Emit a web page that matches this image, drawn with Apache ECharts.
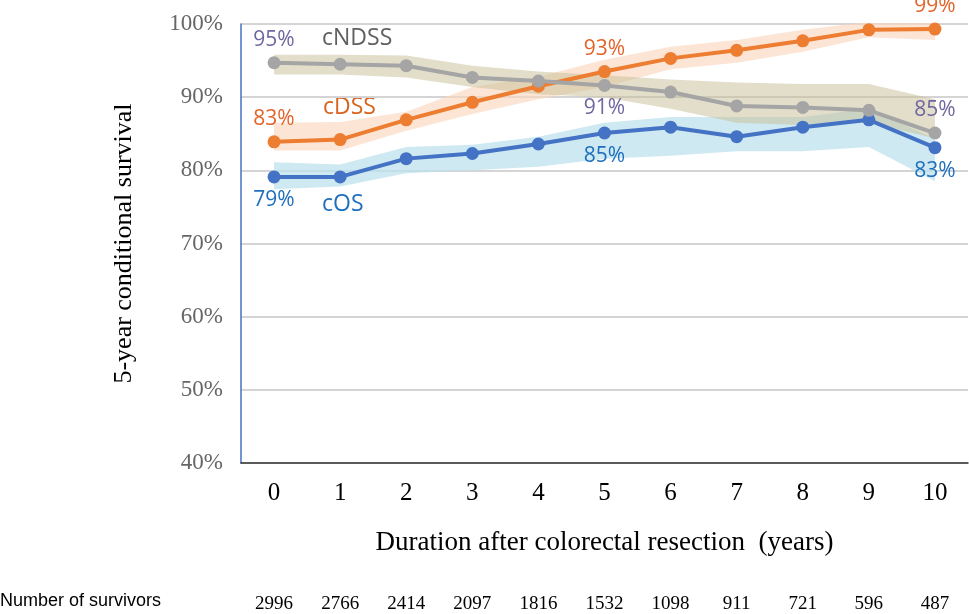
<!DOCTYPE html>
<html>
<head>
<meta charset="utf-8">
<script src="https://cdn.jsdelivr.net/npm/echarts@6/dist/echarts.min.js"></script>
<style>html,body{margin:0;padding:0;background:#fff}#chart{width:969px;height:614px}</style>
</head>
<body>
<div id="chart"></div>
<script>
// 随访年数
const years = ['0', '1', '2', '3', '4', '5', '6', '7', '8', '9', '10'];
const survivors = ['2996', '2766', '2414', '2097', '1816', '1532', '1098', '911', '721', '596', '487'];
const yTicks = [40, 50, 60, 70, 80, 90, 100];

const cOS = [79.1, 79.1, 81.6, 82.3, 83.6, 85.1, 85.9, 84.6, 85.9, 86.9, 83.1];
const cOSLow = [77.4, 77.8, 79.6, 80.0, 80.5, 81.6, 82.0, 82.6, 82.6, 83.2, 78.5];
const cOSHigh = [81.1, 80.8, 83.2, 83.5, 84.6, 86.5, 87.3, 87.3, 87.3, 88.4, 84.3];

const cDSS = [83.9, 84.2, 86.9, 89.3, 91.5, 93.5, 95.3, 96.4, 97.7, 99.2, 99.3];
const cDSSLow = [82.7, 82.7, 85.4, 87.7, 89.7, 91.4, 93.8, 94.7, 96.2, 98.2, 97.8];
const cDSSHigh = [86.5, 86.6, 88.0, 91.4, 92.8, 95.1, 96.9, 97.8, 99.2, 100.3, 100.3];

const cNDSS = [94.7, 94.5, 94.3, 92.7, 92.2, 91.6, 90.7, 88.8, 88.6, 88.2, 85.1];
const cNDSSLow = [93.1, 93.1, 92.7, 91.4, 90.4, 90.0, 88.4, 86.5, 86.2, 86.5, 84.4];
const cNDSSHigh = [95.8, 95.8, 95.7, 94.3, 93.5, 93.0, 92.4, 92.0, 91.8, 91.8, 89.7];

// 标注的点: [索引, 文本, 位置]
const cOSLabels = [[0, '79%', 'bottom'], [5, '85%', 'bottom'], [10, '83%', 'bottom']];
const cDSSLabels = [[0, '83%', 'top'], [5, '93%', 'top'], [10, '99%', 'top']];
const cNDSSLabels = [[0, '95%', 'top'], [5, '91%', 'bottom'], [10, '85%', 'top']];

const labelFont = 'Open Sans';

function withLabels(values, labels, color, dist) {
  return values.map((v, i) => {
    const hit = labels.find(l => l[0] === i);
    if (!hit) return v;
    return {
      value: v,
      label: {
        show: true, formatter: hit[1], position: hit[2], distance: dist,
        color: color, fontSize: 21, fontFamily: labelFont
      }
    };
  });
}

function band(name, low, high, color) {
  return [
    {
      name: name + 'low', type: 'line', stack: name, data: low, symbol: 'none',
      lineStyle: {opacity: 0}, silent: true, z: 1
    },
    {
      name: name + 'band', type: 'line', stack: name,
      data: high.map((h, i) => +(h - low[i]).toFixed(2)), symbol: 'none',
      lineStyle: {opacity: 0}, areaStyle: {color: color, opacity: 1}, silent: true, z: 1
    }
  ];
}

function line(name, values, labels, color, labelColor) {
  return {
    name: name, type: 'line', data: withLabels(values, labels, labelColor, 6),
    symbol: 'circle', symbolSize: 13, z: 5,
    lineStyle: {color: color, width: 4},
    itemStyle: {color: color}
  };
}

const myChart = echarts.init(document.getElementById('chart'));
const option = {
  animation: false,
  grid: {left: 241, right: 1, top: 24, bottom: 146},
  xAxis: [
    {
      type: 'category', data: years, boundaryGap: true,
      name: 'Duration after colorectal resection  (years)', nameLocation: 'middle', nameGap: 66,
      nameTextStyle: {fontFamily: 'Liberation Serif', fontSize: 27, color: '#000'},
      axisLine: {lineStyle: {color: '#333', width: 1.5}},
      axisTick: {inside: true, length: 22, alignWithLabel: true, lineStyle: {color: '#4472c4', width: 1.5}},
      axisLabel: {fontFamily: 'Liberation Serif', fontSize: 25, color: '#000', margin: 18}
    },
    {
      type: 'category', data: survivors, position: 'bottom', offset: 124,
      axisLine: {show: false}, axisTick: {show: false},
      axisLabel: {fontFamily: 'Liberation Serif', fontSize: 19, color: '#000'}
    }
  ],
  yAxis: {
    type: 'value', min: 40, max: 100, interval: 10,
    name: '5-year conditional survival', nameLocation: 'middle', nameGap: 104,
    nameTextStyle: {fontFamily: 'Liberation Serif', fontSize: 26, color: '#000'},
    axisLine: {show: true, lineStyle: {color: '#4472c4', width: 1.5}},
    axisTick: {show: false},
    axisLabel: {
      fontFamily: 'Liberation Serif', fontSize: 23, color: '#666', margin: 18,
      formatter: v => yTicks.includes(v) ? v + '%' : ''
    },
    splitLine: {lineStyle: {color: '#d4d4d4', width: 2}}
  },
  graphic: [
    {type: 'text', left: 322, top: 27, style: {text: 'cNDSS', fontSize: 23, fontFamily: labelFont, fill: '#606060'}},
    {type: 'text', left: 323, top: 96, style: {text: 'cDSS', fontSize: 23, fontFamily: labelFont, fill: '#d7631c'}},
    {type: 'text', left: 322, top: 193, style: {text: 'cOS', fontSize: 23, fontFamily: labelFont, fill: '#1f6fbf'}},
    {type: 'text', left: 0, top: 592, style: {text: 'Number of survivors', fontSize: 18, fontFamily: 'Liberation Sans', fill: '#000'}}
  ],
  series: [
    ...band('cOS', cOSLow, cOSHigh, 'rgba(190,225,236,0.75)'),
    ...band('cDSS', cDSSLow, cDSSHigh, 'rgba(250,215,190,0.65)'),
    ...band('cNDSS', cNDSSLow, cNDSSHigh, 'rgba(200,190,150,0.5)'),
    line('cOS', cOS, cOSLabels, '#4472c4', '#1f6fbf'),
    line('cDSS', cDSS, cDSSLabels, '#ed7d31', '#e3642a'),
    line('cNDSS', cNDSS, cNDSSLabels, '#a5a5a5', '#7067a0')
  ]
};
myChart.setOption(option);
</script>
</body>
</html>
